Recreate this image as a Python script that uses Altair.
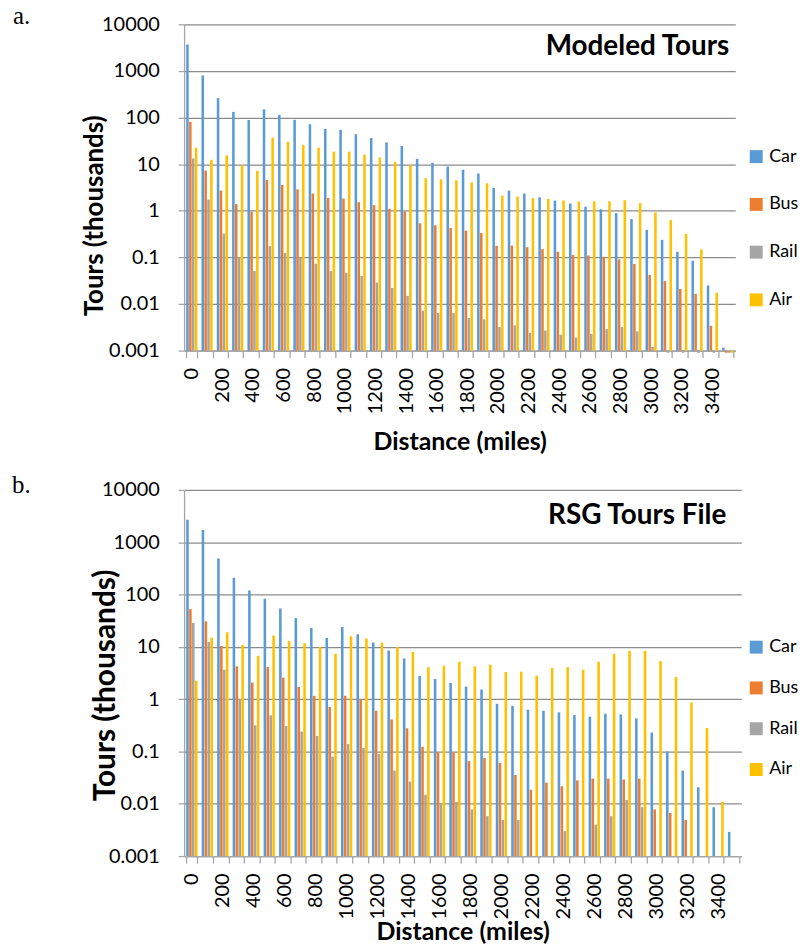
import altair as alt
import pandas as pd

distances = list(range(0, 3600, 100))
modes = ["Car", "Bus", "Rail", "Air"]
colors = ["#5B9BD5", "#ED7D31", "#A5A5A5", "#FFC000"]
y_ticks = [0.001, 0.01, 0.1, 1, 10, 100, 1000, 10000]

# Panel a: Modeled Tours (thousands)
car_a = [3690, 796, 262, 132, 89, 150, 114, 89, 72, 57, 54.6, 44, 36.3, 29.4, 24.5, 13, 10.7, 8.9,
         7.6, 6.3, 3.08, 2.71, 2.34, 1.95, 1.66, 1.43, 1.22, 1.08, 0.89, 0.665, 0.39, 0.238, 0.132,
         0.085, 0.025, 0.00116]
bus_a = [81, 7.3, 2.71, 1.39, 0.95, 4.57, 3.57, 2.89, 2.34, 1.89, 1.83, 1.53, 1.32, 1.1, 0.97, 0.54,
         0.49, 0.43, 0.375, 0.335, 0.177, 0.18, 0.166, 0.15, 0.132, 0.114, 0.11, 0.103, 0.091, 0.072,
         0.042, 0.031, 0.021, 0.0166, 0.0034, 0.0009]
rail_a = [13.2, 1.74, 0.324, 0.1, 0.051, 0.174, 0.124, 0.1, 0.073, 0.051, 0.047, 0.040, 0.029, 0.022,
          0.015, 0.0072, 0.0064, 0.0064, 0.005, 0.0047, 0.0032, 0.0035, 0.0024, 0.0027, 0.0022, 0.0019,
          0.0023, 0.0029, 0.0032, 0.0026, 0.0012, 0.0009, 0.0009, 0.0009, 0.0009, 0.0009]
air_a = [22.6, 12.4, 15.5, 9.5, 7.2, 36.9, 30.4, 25.8, 22.6, 18.6, 18.6, 16.1, 13.9, 11.2, 9.5, 5.0,
         4.7, 4.5, 4.07, 3.9, 2.12, 2.02, 1.86, 1.8, 1.66, 1.58, 1.6, 1.6, 1.69, 1.46, 0.92, 0.63, 0.32,
         0.148, 0.0174, 0.0009]

# Panel b: RSG Tours File (thousands)
car_b = [2690, 1715, 490, 210, 119, 82.7, 54.2, 35.5, 23, 14.8, 24, 17.4, 12.1, 8.5, 6.0, 2.77, 2.43,
         2.04, 1.74, 1.53, 0.815, 0.747, 0.627, 0.6, 0.558, 0.497, 0.462, 0.527, 0.51, 0.43, 0.23, 0.1,
         0.043, 0.0207, 0.0086, 0.0029]
bus_b = [52.7, 30.7, 10.4, 4.23, 2.07, 4.11, 2.58, 1.71, 1.16, 0.705, 1.16, 0.99, 0.6, 0.41, 0.277,
         0.123, 0.097, 0.097, 0.0655, 0.0747, 0.06, 0.0356, 0.0185, 0.0254, 0.0216, 0.028, 0.0303,
         0.0303, 0.029, 0.0303, 0.0078, 0.0067, 0.0049, None, None, None]
rail_b = [28.6, 12.4, 3.66, 1.0, 0.316, 0.49, 0.307, 0.24, 0.198, 0.080, 0.138, 0.117, 0.089, 0.043,
          0.0265, 0.0149, 0.01, 0.0108, 0.0078, 0.0058, 0.0049, 0.0049, None, None, 0.003, None, 0.004,
          0.0058, 0.0118, 0.0086, None, None, None, None, None, None]
air_b = [2.26, 15.0, 19, 10.9, 6.75, 16.4, 13.0, 11.7, 10.0, 7.36, 16, 14.4, 12, 10, 8.0, 4.1, 4.36,
         5.2, 4.23, 4.55, 3.3, 3.35, 2.81, 3.94, 4.1, 3.66, 5.2, 7.36, 8.4, 8.4, 5.35, 2.65, 0.865, 0.28,
         0.0108, None]


def long_df(series):
    rows = []
    for mode, vals in zip(modes, series):
        for d, v in zip(distances, vals):
            if v is not None:
                rows.append({"distance": d, "mode": mode, "tours": v})
    return pd.DataFrame(rows)


def panel(series, width, height, title, tag, cfg):
    df = long_df(series)
    bars = alt.Chart(df).mark_bar(clip=False).encode(
        x=alt.X("distance:O", sort=distances,
                scale=alt.Scale(paddingInner=0.27, paddingOuter=0.135),
                axis=alt.Axis(title="Distance (miles)", labelAngle=270, tickBand="extent",
                              tickSize=7, labelPadding=10,
                              labelExpr="datum.value % 200 == 0 ? datum.label : ''",
                              titleFontSize=25, titlePadding=cfg["xtpad"],
                              grid=False)),
        xOffset=alt.XOffset("mode:N", sort=modes, scale=alt.Scale(paddingInner=0.12)),
        y=alt.Y("tours:Q",
                scale=alt.Scale(type="log", domain=[0.001, 10000], nice=False),
                axis=alt.Axis(title="Tours (thousands)", values=y_ticks, format="~g",
                              tickSize=6, labelPadding=19, titleFontSize=cfg["ytfs"],
                              titleAngle=270, titleX=cfg["ytx"], titleY=cfg["yty"],
                              titleAlign="center", titleBaseline="alphabetic")),
        y2=alt.datum(0.001),
        color=alt.Color("mode:N", sort=modes,
                        scale=alt.Scale(domain=modes, range=colors),
                        legend=alt.Legend(title=None, orient="none", legendX=cfg["lx"],
                                          legendY=cfg["ly"], symbolType="square",
                                          symbolSize=169, symbolStrokeWidth=0,
                                          labelFontSize=18, labelFont="Lato",
                                          labelColor="#000000",
                                          rowPadding=cfg["lrow"], labelOffset=4, padding=0)),
    )
    ttl = alt.Chart(pd.DataFrame({"t": [title]})).mark_text(
        font="Lato", fontSize=28, fontWeight="bold", align="right", baseline="alphabetic",
        color="#000000").encode(text="t:N", x=alt.value(width - cfg["tr"]), y=alt.value(cfg["ty"]))
    lab = alt.Chart(pd.DataFrame({"t": [tag]})).mark_text(
        font="Liberation Serif", fontSize=25, align="left", baseline="alphabetic",
        color="#000000").encode(text="t:N", x=alt.value(cfg["tagx"]), y=alt.value(cfg["tagy"]))
    return alt.layer(bars, ttl, lab).properties(width=width, height=height)


cfg_a = dict(xtpad=16, ytfs=26, ytx=-82, yty=192, lx=566, ly=124, lrow=30,
             tr=6, ty=31, tagx=-172, tagy=0)
cfg_b = dict(xtpad=0, ytfs=30, ytx=-70, yty=196, lx=566, ly=149, lrow=23,
             tr=15, ty=34, tagx=-173, tagy=3)

pa = panel([car_a, bus_a, rail_a, air_a], 554, 328, "Modeled Tours", "a.", cfg_a)
pb = panel([car_b, bus_b, rail_b, air_b], 560, 368, "RSG Tours File", "b.", cfg_b)

chart = alt.vconcat(pa, pb, spacing=18).resolve_scale(
    x="independent", y="independent", color="independent", xOffset="independent"
).properties(
    padding={"left": 4, "top": -6, "right": 0, "bottom": 0}
).configure_view(stroke=None).configure_axis(
    labelFont="Lato", labelFontSize=20, labelColor="#000000",
    titleFont="Lato", titleFontWeight="bold", titleColor="#000000",
    domainColor="#a6a6a6", domainWidth=1.3, tickColor="#a6a6a6", tickWidth=1.3,
).configure_axisY(grid=True, gridColor="#8c8c8c", gridWidth=1.2)

chart.save("out.html", embed_options={"renderer": "svg", "actions": False})
